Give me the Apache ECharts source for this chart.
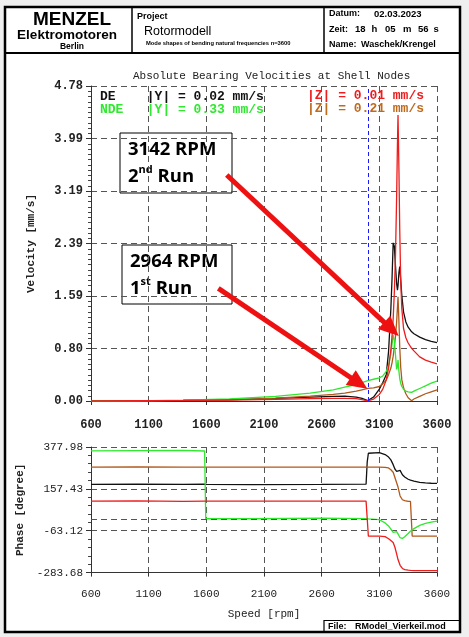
<!DOCTYPE html>
<html>
<head>
<meta charset="utf-8">
<script src="https://cdn.jsdelivr.net/npm/echarts@6.0.0/dist/echarts.min.js"></script>
<style>
html, body { margin: 0; padding: 0; background: #efefef; }
#grafico { width: 469px; height: 637px; }
</style>
</head>
<body>
<div id="grafico"></div>
<script>
// Datos - velocidad (mm/s) por rpm
const rpmVel = [600, 1000, 1400, 1800, 2200, 2500, 2700, 2800, 2900, 2950, 3000, 3050, 3100, 3130, 3160, 3180,
    3200, 3210, 3220, 3230, 3240, 3250, 3257, 3262, 3270, 3277, 3285, 3295, 3310, 3330, 3350, 3380, 3400, 3450, 3500, 3550, 3600];
const velDE_Y = [0.005, 0.005, 0.01, 0.02, 0.04, 0.06, 0.07, 0.075, 0.06, 0.04, 0.005, 0.06, 0.18, 0.28, 0.4, 0.75,
    1.4, 1.85, 2.4, 2.35, 2.05, 1.78, 1.68, 1.75, 1.95, 2.04, 1.85, 1.6, 1.35, 1.2, 1.12, 1.05, 1.02, 0.97, 0.93, 0.905, 0.885];
const velDE_Z = [0.0, 0.004, 0.008, 0.015, 0.025, 0.035, 0.04, 0.04, 0.035, 0.02, 0.003, 0.03, 0.1, 0.18, 0.32, 0.5,
    0.78, 0.98, 1.25, 1.65, 2.2, 3.1, 3.9, 4.34, 3.5, 2.6, 1.85, 1.4, 1.1, 0.96, 0.88, 0.8, 0.76, 0.67, 0.62, 0.59, 0.565];
const velNDE_Y = [0.0, 0.003, 0.012, 0.03, 0.07, 0.12, 0.17, 0.21, 0.25, 0.28, 0.31, 0.33, 0.35, 0.38, 0.45, 0.54,
    0.72, 0.86, 1.0, 0.92, 0.7, 0.48, 0.52, 0.62, 0.45, 0.34, 0.27, 0.22, 0.18, 0.15, 0.14, 0.13, 0.15, 0.19, 0.23, 0.27, 0.30];
const velNDE_Z = [0.003, 0.003, 0.008, 0.018, 0.045, 0.075, 0.1, 0.12, 0.15, 0.17, 0.19, 0.2, 0.22, 0.26, 0.32, 0.4,
    0.5, 0.58, 0.68, 0.82, 0.98, 1.2, 1.42, 1.58, 1.2, 0.82, 0.52, 0.32, 0.2, 0.11, 0.05, 0.005, 0.03, 0.07, 0.11, 0.14, 0.17];

// Datos - fase (grados) por rpm
const rpmFase = [600, 1000, 1400, 1585, 1595, 1605, 2000, 2600, 2985, 2995, 3005, 3100, 3150, 3180, 3200, 3220,
    3235, 3250, 3262, 3280, 3300, 3320, 3350, 3370, 3380, 3385, 3400, 3450, 3500, 3550, 3600];
const faseDE_Y = [181, 182, 181, 182, 181, 181, 180, 181, 182, 300, 345, 348, 338, 325, 310, 285,
    262, 250, 246, 255, 232, 220, 208, 203, 201, 200, 198, 192, 189, 187, 186];
const faseDE_Z = [93, 94, 92, 93, 93, 93, 93, 93, 93, 93, -92, -92, -94, -105, -115, -125,
    -150, -185, -215, -245, -262, -268, -271, -272, -272, -273, -273, -273, -273, -273, -273];
const faseNDE_Y = [358, 359, 360, 357, 0, 0, 0, 3, 1, 0, -1, -5, -22, -38, -55, -72,
    -80, -68, -80, -100, -104, -95, -78, -66, -60, -58, -52, -35, -24, -18, -13];
const faseNDE_Z = [272, 273, 272, 272, 273, 272, 272, 272, 272, 272, 272, 272, 271, 268, 258, 245,
    236, 190, 167, 120, 100, 95, 92, 91, 90, -92, -92, -92, -92, -92, -92];

// Etiquetas de ejes
const ticksRpm = ['600', '1100', '1600', '2100', '2600', '3100', '3600'];
const ticksVel = ['0.00', '0.80', '1.59', '2.39', '3.19', '3.99', '4.78'];
const ticksFase = ['-283.68', '-63.12', '157.43', '377.98'];

// Anotaciones: flechas [rpm, mm/s] inicio -> fin, linea azul a 3000 rpm
const flecha1 = [[1777, 3.43], [3205, 1.09]];
const flecha2 = [[1704, 1.71], [2924, 0.27]];
const rpmMarca = 3000;

const RPM_INICIO = 600;
const VEL_MAX = 4.78;
const FASE_MIN = -283.68;
const FASE_MAX = 377.98;

const MONO = 'Liberation Mono';
const SANS = 'Liberation Sans';
const colores = { de_y: '#111111', de_z: '#ee1c1c', nde_y: '#2fe82f', nde_z: '#b0581a' };

// PROCESAMIENTO
function armarPuntos(rpm, valores, base) {
    return rpm.map((r, i) => [r - RPM_INICIO, valores[i] - base]);
}

function ejeX(grid, negrita, tam, nombre) {
    return {
        type: 'value', gridIndex: grid, min: 0, max: 3000, interval: 500,
        axisLine: { lineStyle: { color: '#333', width: 1 } },
        axisTick: { show: true, length: 4, lineStyle: { color: '#333' } },
        axisLabel: {
            showMinLabel: true, showMaxLabel: true, margin: negrita ? 18 : 16,
            formatter: v => ticksRpm[Math.round(v / 500)],
            fontFamily: MONO, fontWeight: negrita ? 'bold' : 'normal', fontSize: tam, color: '#222'
        },
        splitLine: { show: true, lineStyle: { type: [6, 4], color: '#555', width: 1 } },
        name: nombre, nameLocation: 'middle', nameGap: 36,
        nameTextStyle: { fontFamily: MONO, fontSize: 11, color: '#222' }
    };
}

function ejeY(grid, max, intervalo, etiquetas, menores, nombre, negrita) {
    return {
        type: 'value', gridIndex: grid, min: 0, max: max, interval: intervalo,
        axisLine: { show: true, lineStyle: { color: '#333', width: 1 } },
        axisTick: { show: true, length: 5, lineStyle: { color: '#333' } },
        minorTick: { show: true, splitNumber: menores, length: 3, lineStyle: { color: '#444' } },
        axisLabel: {
            showMinLabel: true, showMaxLabel: true, margin: 8,
            formatter: v => etiquetas[Math.round(v / intervalo)],
            fontFamily: MONO, fontWeight: negrita ? 'bold' : 'normal', fontSize: negrita ? 12 : 11, color: '#222'
        },
        splitLine: { show: true, lineStyle: { type: [6, 4], color: '#555', width: 1 } },
        name: nombre, nameLocation: 'middle', nameGap: 54,
        nameTextStyle: { fontFamily: MONO, fontWeight: 'bold', fontSize: 11, color: '#222' }
    };
}

function serie(nombre, color, datos, eje) {
    return {
        name: nombre, type: 'line', xAxisIndex: eje, yAxisIndex: eje,
        data: datos, showSymbol: false, symbol: 'none', silent: true,
        lineStyle: { color: color, width: 1.3 }, animation: false
    };
}

// textos de la cabecera y leyenda
function texto(x, y, t, tam, opciones) {
    const o = opciones || {};
    return {
        type: 'text', x: x, y: y, silent: true, z: 60,
        style: {
            text: t, fontSize: tam, fontFamily: o.familia || SANS, fontWeight: o.peso || 'bold',
            fill: o.color || '#000', align: o.alinear || 'left', verticalAlign: 'middle'
        }
    };
}

// Función para crear las opciones del gráfico
function crearGrafico() {
    const intVel = VEL_MAX / 6;
    const rangoFase = FASE_MAX - FASE_MIN;
    const intFase = rangoFase / 3;

    const sDE_Y = serie('DE |Y|', colores.de_y, armarPuntos(rpmVel, velDE_Y, 0), 0);
    sDE_Y.markLine = {
        silent: true, animation: false, symbol: ['none', 'none'], label: { show: false },
        lineStyle: { color: '#1a1aff', type: [4, 3], width: 1 },
        data: [{ xAxis: rpmMarca - RPM_INICIO }]
    };
    const sDE_Z = serie('DE |Z|', colores.de_z, armarPuntos(rpmVel, velDE_Z, 0), 0);
    sDE_Z.markLine = {
        silent: true, animation: false, symbol: ['none', 'triangle'], symbolSize: [18, 20],
        label: { show: false }, emphasis: { disabled: true },
        lineStyle: { color: '#ee1111', type: 'solid', width: 5 },
        data: [flecha1, flecha2].map(f => [
            { coord: [f[0][0] - RPM_INICIO, f[0][1]] },
            { coord: [f[1][0] - RPM_INICIO, f[1][1]] }
        ])
    };
    const fNDE_Y = serie('NDE |Y| fase', colores.nde_y, armarPuntos(rpmFase, faseNDE_Y, FASE_MIN), 1);
    fNDE_Y.markLine = {
        silent: true, animation: false, symbol: ['none', 'none'], label: { show: false },
        lineStyle: { color: '#555', type: [6, 4], width: 1 },
        data: [{ yAxis: 0 - FASE_MIN }]
    };

    const leyenda = (x, y, t, color) => texto(x, y, t, 13, { familia: MONO, color: color });

    const caja = (x, y, w, h, l1, num, sup, resto) => ({
        type: 'group', silent: true,
        children: [
            { type: 'rect', shape: { x: x, y: y, width: w, height: h }, style: { fill: null, stroke: '#000', lineWidth: 1 } },
            { type: 'text', x: x + 8, y: y + 17, style: { text: l1, fontSize: 18.5, fontFamily: 'Open Sans', fontWeight: 'bold', fill: '#000', verticalAlign: 'middle' } },
            { type: 'text', x: x + 8, y: y + 42, style: {
                text: '{a|' + num + '}{s|' + sup + '}{a|' + resto + '}', verticalAlign: 'middle',
                rich: {
                    a: { fontSize: 18.5, fontFamily: 'Open Sans', fontWeight: 'bold', fill: '#000', lineHeight: 22, verticalAlign: 'bottom' },
                    s: { fontSize: 11, fontFamily: 'Open Sans', fontWeight: 'bold', fill: '#000', lineHeight: 22, verticalAlign: 'top' }
                }
            } }
        ]
    });

    return {
        backgroundColor: '#efefef',
        animation: false,
        title: {
            text: 'Absolute Bearing Velocities at Shell Nodes', left: 133, top: 71, padding: 0,
            textStyle: { fontFamily: MONO, fontSize: 11, fontWeight: 'normal', color: '#222' }
        },
        grid: [
            { left: 91, right: 32, top: 86, height: 315 },
            { left: 91, right: 32, top: 447, height: 125.6 }
        ],
        xAxis: [ejeX(0, true, 12, ''), ejeX(1, false, 11, 'Speed [rpm]')],
        yAxis: [
            ejeY(0, VEL_MAX, intVel, ticksVel, 10, 'Velocity [mm/s]', true),
            ejeY(1, rangoFase, intFase, ticksFase, 5, 'Phase [degree]', false)
        ],
        graphic: [
            // fondo blanco y marco
            { type: 'rect', z: -10, silent: true, shape: { x: 5, y: 7, width: 455, height: 625 }, style: { fill: '#fff' } },
            { type: 'rect', z: 50, silent: true, shape: { x: 5, y: 7, width: 455, height: 625 }, style: { fill: null, stroke: '#000', lineWidth: 2.5 } },
            { type: 'line', z: 50, silent: true, shape: { x1: 5, y1: 53, x2: 460, y2: 53 }, style: { stroke: '#000', lineWidth: 2 } },
            { type: 'line', z: 50, silent: true, shape: { x1: 132, y1: 7, x2: 132, y2: 53 }, style: { stroke: '#000', lineWidth: 1.5 } },
            { type: 'line', z: 50, silent: true, shape: { x1: 324, y1: 7, x2: 324, y2: 53 }, style: { stroke: '#000', lineWidth: 1.5 } },
            { type: 'rect', z: 50, silent: true, shape: { x: 324, y: 620.5, width: 136, height: 12 }, style: { fill: null, stroke: '#000', lineWidth: 1.2 } },
            // cabecera
            texto(72, 20, 'MENZEL', 19, { alinear: 'center' }),
            texto(67, 35.5, 'Elektromotoren', 13.5, { alinear: 'center' }),
            texto(72, 47, 'Berlin', 8.5, { alinear: 'center' }),
            texto(137, 17, 'Project', 9),
            texto(144, 32, 'Rotormodell', 12.5, { peso: 'normal' }),
            texto(146, 43.5, 'Mode shapes of bending natural frequencies n=3600', 5.8),
            texto(329, 14, 'Datum:', 9),
            texto(374, 14, '02.03.2023', 9.5),
            texto(329, 29.5, 'Zeit:', 9),
            texto(355, 29.5, '18', 9.5),
            texto(371.5, 29.5, 'h', 9.5),
            texto(385, 29.5, '05', 9.5),
            texto(403, 29.5, 'm', 9.5),
            texto(418, 29.5, '56', 9.5),
            texto(433.5, 29.5, 's', 9.5),
            texto(329, 45, 'Name:', 9),
            texto(361, 45, 'Waschek/Krengel', 9),
            texto(328, 627, 'File:', 9),
            texto(355, 627, 'RModel_Vierkeil.mod', 9),
            // leyenda dentro del gráfico
            leyenda(100, 97, 'DE    |Y| = 0.02 mm/s', '#111'),
            leyenda(100, 109.5, 'NDE   |Y| = 0.33 mm/s', '#2fe82f'),
            leyenda(307, 96, '|Z| = 0.01 mm/s', '#ee1c1c'),
            leyenda(307, 109, '|Z| = 0.21 mm/s', '#c06a1e'),
            // cajas de texto
            caja(120, 133, 112, 60, '3142 RPM', '2', 'nd', ' Run'),
            caja(122, 245, 110, 59, '2964 RPM', '1', 'st', ' Run')
        ],
        series: [
            sDE_Y,
            serie('NDE |Z|', colores.nde_z, armarPuntos(rpmVel, velNDE_Z, 0), 0),
            serie('NDE |Y|', colores.nde_y, armarPuntos(rpmVel, velNDE_Y, 0), 0),
            sDE_Z,
            serie('DE |Y| fase', colores.de_y, armarPuntos(rpmFase, faseDE_Y, FASE_MIN), 1),
            serie('NDE |Z| fase', colores.nde_z, armarPuntos(rpmFase, faseNDE_Z, FASE_MIN), 1),
            fNDE_Y,
            serie('DE |Z| fase', colores.de_z, armarPuntos(rpmFase, faseDE_Z, FASE_MIN), 1)
        ]
    };
}

// Función principal para inicializar el gráfico
function iniciar() {
    const chartDom = document.getElementById('grafico');
    const myChart = echarts.init(chartDom, null, { renderer: 'canvas' });
    myChart.setOption(crearGrafico());
}

iniciar();
</script>
</body>
</html>
